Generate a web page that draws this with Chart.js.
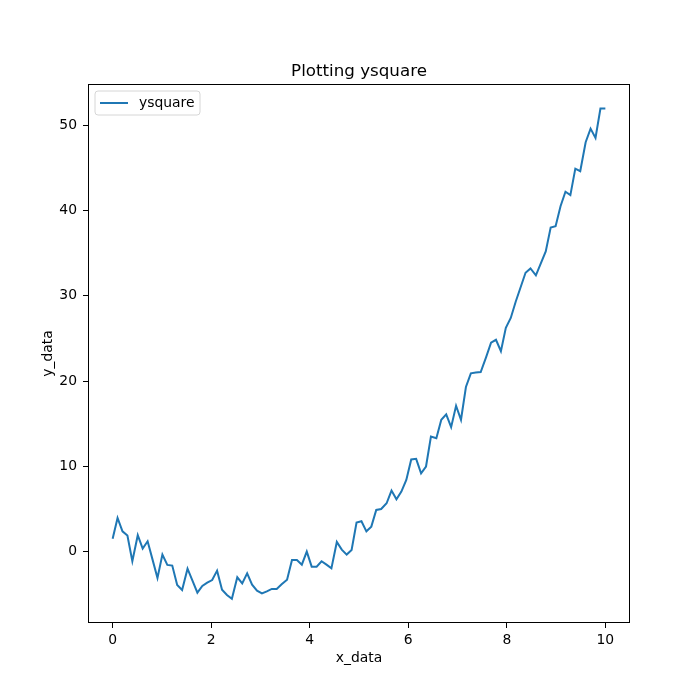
<!DOCTYPE html>
<html>
<head>
<meta charset="utf-8">
<script src="https://cdn.jsdelivr.net/npm/chart.js@4.4.1/dist/chart.umd.min.js"></script>
<style>
  body { margin: 0; background: #fff; }
  canvas { display: block; }
</style>
</head>
<body>
<canvas id="chart" width="700" height="700"></canvas>
<script>
// data
const xData = [
  0.00, 0.10, 0.20, 0.30, 0.40, 0.51, 0.61, 0.71, 0.81, 0.91,
  1.01, 1.11, 1.21, 1.31, 1.41, 1.52, 1.62, 1.72, 1.82, 1.92,
  2.02, 2.12, 2.22, 2.32, 2.42, 2.53, 2.63, 2.73, 2.83, 2.93,
  3.03, 3.13, 3.23, 3.33, 3.43, 3.54, 3.64, 3.74, 3.84, 3.94,
  4.04, 4.14, 4.24, 4.34, 4.44, 4.55, 4.65, 4.75, 4.85, 4.95,
  5.05, 5.15, 5.25, 5.35, 5.45, 5.56, 5.66, 5.76, 5.86, 5.96,
  6.06, 6.16, 6.26, 6.36, 6.46, 6.57, 6.67, 6.77, 6.87, 6.97,
  7.07, 7.17, 7.27, 7.37, 7.47, 7.58, 7.68, 7.78, 7.88, 7.98,
  8.08, 8.18, 8.28, 8.38, 8.48, 8.59, 8.69, 8.79, 8.89, 8.99,
  9.09, 9.19, 9.29, 9.39, 9.49, 9.60, 9.70, 9.80, 9.90, 10.00
];

const ySquare = [
  1.50, 3.95, 2.38, 1.88, -1.13, 1.92, 0.35, 1.21, -0.94, -3.09,
  -0.35, -1.56, -1.64, -3.91, -4.50, -2.00, -3.40, -4.81, -4.03, -3.64,
  -3.33, -2.23, -4.46, -5.09, -5.52, -3.01, -3.72, -2.54, -3.87, -4.58,
  -4.89, -4.66, -4.38, -4.38, -3.83, -3.29, -0.98, -0.98, -1.53, 0.00,
  -1.76, -1.76, -1.13, -1.53, -1.96, 1.13, 0.23, -0.35, 0.19, 3.40,
  3.56, 2.38, 2.93, 4.89, 5.00, 5.67, 7.16, 6.14, 7.04, 8.41,
  10.80, 10.88, 9.19, 9.98, 13.50, 13.30, 15.46, 16.10, 14.60, 17.10,
  15.46, 19.30, 20.90, 21.00, 21.05, 22.80, 24.50, 24.84, 23.50, 26.25,
  27.40, 29.30, 31.00, 32.70, 33.20, 32.40, 33.80, 35.20, 38.00, 38.15,
  40.50, 42.20, 41.80, 44.90, 44.60, 48.00, 49.60, 48.50, 51.96, 51.96
];

const xTicks = [0, 2, 4, 6, 8, 10];
const yTicks = [0, 10, 20, 30, 40, 50];

const seriesLabel = "ysquare";
const chartTitle = "Plotting ysquare";
const lineColor = "#1f77b4";
const FONT = "'DejaVu Sans', sans-serif";

// title, legend box and the full frame, matplotlib style
const mplDecor = {
    id: "mplDecor",
    afterDraw(chart) {
        const { ctx, chartArea: a } = chart;
        ctx.save();

        ctx.strokeStyle = "#000";
        ctx.lineWidth = 1;
        ctx.strokeRect(Math.round(a.left) + 0.5, Math.round(a.top) + 0.5,
            Math.round(a.right - a.left) - 1, Math.round(a.bottom - a.top) - 1);

        ctx.fillStyle = "#000";
        ctx.font = "16.7px " + FONT;
        ctx.textAlign = "center";
        ctx.textBaseline = "alphabetic";
        ctx.fillText(chartTitle, (a.left + a.right) / 2, 76);

        // legend
        const bx = a.left + 7, by = a.top + 7, bw = 105, bh = 24, r = 3;
        ctx.beginPath();
        ctx.moveTo(bx + r, by);
        ctx.arcTo(bx + bw, by, bx + bw, by + bh, r);
        ctx.arcTo(bx + bw, by + bh, bx, by + bh, r);
        ctx.arcTo(bx, by + bh, bx, by, r);
        ctx.arcTo(bx, by, bx + bw, by, r);
        ctx.closePath();
        ctx.fillStyle = "rgba(255,255,255,0.8)";
        ctx.fill();
        ctx.strokeStyle = "#d6d6d6";
        ctx.stroke();

        ctx.strokeStyle = lineColor;
        ctx.lineWidth = 2;
        ctx.beginPath();
        ctx.moveTo(bx + 5, by + 12);
        ctx.lineTo(bx + 33, by + 12);
        ctx.stroke();

        ctx.fillStyle = "#000";
        ctx.font = "13.9px " + FONT;
        ctx.textAlign = "left";
        ctx.textBaseline = "middle";
        ctx.fillText(seriesLabel, bx + 44, by + 12);

        ctx.restore();
    }
};

const ctx = document.getElementById("chart").getContext("2d");

new Chart(ctx, {
    type: "line",
    data: {
        datasets: [{
            label: seriesLabel,
            data: xData.map((x, i) => ({ x: x, y: ySquare[i] })),
            borderColor: lineColor,
            borderWidth: 2,
            pointRadius: 0,
            tension: 0,
            fill: false
        }]
    },
    options: {
        responsive: false,
        animation: false,
        devicePixelRatio: 1,
        layout: { padding: { left: 0, right: 70, top: 84, bottom: 0 } },
        plugins: {
            legend: { display: false },
            title: { display: false },
            tooltip: { enabled: false }
        },
        scales: {
            x: {
                type: "linear",
                min: -0.5,
                max: 10.5,
                afterBuildTicks: s => { s.ticks = xTicks.map(v => ({ value: v })); },
                afterFit: s => { s.height = 77; },
                grid: { display: true, drawOnChartArea: false, drawTicks: true, tickLength: 5, color: "#000" },
                border: { display: false },
                ticks: { color: "#000", padding: 4, maxRotation: 0, font: { family: FONT, size: 13.9 } },
                title: {
                    display: true,
                    text: "x_data",
                    color: "#000",
                    font: { family: FONT, size: 13.9 },
                    padding: { top: 0, bottom: 33.6 }
                }
            },
            y: {
                type: "linear",
                min: -8.37,
                max: 54.83,
                afterBuildTicks: s => { s.ticks = yTicks.map(v => ({ value: v })); },
                afterFit: s => { s.width = 88; },
                grid: { display: true, drawOnChartArea: false, drawTicks: true, tickLength: 5, color: "#000" },
                border: { display: false },
                ticks: { color: "#000", padding: 6, font: { family: FONT, size: 13.9 } },
                title: {
                    display: true,
                    text: "y_data",
                    color: "#000",
                    font: { family: FONT, size: 13.9 },
                    padding: { top: 39.6, bottom: 0 }
                }
            }
        }
    },
    plugins: [mplDecor]
});
</script>
</body>
</html>
